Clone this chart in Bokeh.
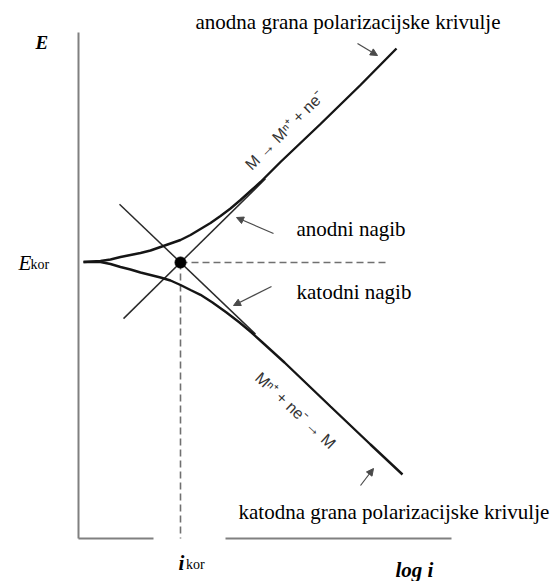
from bokeh.plotting import figure
from bokeh.models import Range1d, Arrow, NormalHead
from bokeh.core.properties import value
from bokeh.embed import file_html
from bokeh.resources import INLINE

# ---- data (schematic units: log i, E) ----
log_i_anodic = [0.5, 2.2, 3.2, 4.2, 5.2, 6.2, 7.2, 8.2, 9.2, 10.2, 11.2, 12.2, 13.2,
                14.2, 15.2, 16.2, 17.2, 18.2, 20.2, 24.2, 28.2, 31.8]
E_anodic = [27.65, 27.75, 27.9, 28.15, 28.35, 28.55, 28.8, 29.15, 29.5, 29.85, 30.35,
            30.95, 31.55, 32.25, 33.0, 33.85, 34.75, 35.65, 37.65, 41.45, 45.35, 49.0]

log_i_cathodic = [0.5, 2.2, 3.2, 4.2, 5.2, 6.2, 7.2, 8.2, 9.2, 10.2, 11.2, 12.2, 13.4,
                  14.8, 16.1, 17.3, 18.4, 20.6, 25.2, 29.2, 32.4]
E_cathodic = [27.65, 27.65, 27.45, 27.15, 26.9, 26.6, 26.35, 26.1, 25.8, 25.35, 24.85,
              24.37, 23.6, 22.6, 21.6, 20.6, 19.6, 17.6, 13.2, 9.4, 6.4]

anodic_slope_log_i = [4.5, 18.7]
anodic_slope_E = [21.99, 35.97]
cathodic_slope_log_i = [4.1, 17.7]
cathodic_slope_E = [33.43, 20.44]

log_i_kor = 10.2
E_kor = 27.6

axis_x_max = 37.3
axis_y_max = 50.6

# ---- figure ----
p = figure(width=558, height=581, x_range=Range1d(-7.8, 48.0), y_range=Range1d(-4.3, 53.8),
           output_backend="svg", toolbar_location=None, min_border=0,
           x_axis_type=None, y_axis_type=None)
p.outline_line_color = None
p.background_fill_color = "white"
p.border_fill_color = "white"

AX = "#808080"
# axes (x-axis broken under the i_kor label, as in the original)
p.line([0, 0], [0, axis_y_max], line_color=AX, line_width=2)
p.line([0, 7.5], [0, 0], line_color=AX, line_width=2)
p.line([14.7, axis_x_max], [0, 0], line_color=AX, line_width=2)

# dashed guides
p.line([log_i_kor, 30.7], [E_kor, E_kor], line_color="#707070", line_width=1.6, line_dash="7 4")
p.line([log_i_kor, log_i_kor], [E_kor, 0], line_color="#707070", line_width=1.6, line_dash="7 4")

# Tafel lines
p.line(anodic_slope_log_i, anodic_slope_E, line_color="#2a2a2a", line_width=1.5)
p.line(cathodic_slope_log_i, cathodic_slope_E, line_color="#2a2a2a", line_width=1.5)

# polarization curves
p.line(log_i_anodic, E_anodic, line_color="#151515", line_width=2.4)
p.line(log_i_cathodic, E_cathodic, line_color="#151515", line_width=2.4)

# corrosion point
p.scatter([log_i_kor], [E_kor], size=11, color="black")

# arrows
AR = "#4a4a4a"
for xs, ys, xe, ye in [(27.9, 49.5, 29.9, 48.3), (19.5, 30.5, 15.8, 32.1),
                       (19.3, 25.2, 15.5, 23.3), (28.2, 5.3, 29.5, 7.0)]:
    p.add_layout(Arrow(end=NormalHead(size=7, fill_color=AR, line_color=AR),
                       x_start=xs, y_start=ys, x_end=xe, y_end=ye,
                       line_color=AR, line_width=1.2))

SERIF = value("Liberation Serif")

def label(x, y, t, size="21px", style="normal", color="black", font=SERIF, angle=0,
          align="left", baseline="alphabetic"):
    p.text(x=[x], y=[y], text=[t], text_font=font, text_font_size=size,
           text_font_style=style, text_color=color, angle=angle,
           text_align=align, text_baseline=baseline)

label(11.7, 51.7, "anodna grana polarizacijske krivulje")
label(21.8, 31.0, "anodni nagib")
label(21.8, 24.7, "katodni nagib")
label(16.0, 2.7, "katodna grana polarizacijske krivulje")
label(-4.3, 49.6, "E", size="19px", style="bold italic")
label(-6.0, 27.6, "E", size="21px", style="italic")
label(-4.8, 27.36, "kor", size="14px")
label(10.0, -2.4, "i", size="21px", style="bold italic")
label(10.75, -2.64, "kor", size="14px")
label(31.7, -3.1, "log i", size="21px", style="bold italic")

SANS = value("Liberation Sans")
label(20.6, 40.8, "M \u2192 M\u207f\u207a + ne\u207b", size="16px", color="#333333",
      font=SANS, angle=0.785, align="center", baseline="middle")
label(21.7, 12.8, "M\u207f\u207a + ne\u207b \u2192 M", size="16px", color="#333333",
      font=SANS, angle=-0.75, align="center", baseline="middle")

open("out.html", "w").write(file_html(p, INLINE))
